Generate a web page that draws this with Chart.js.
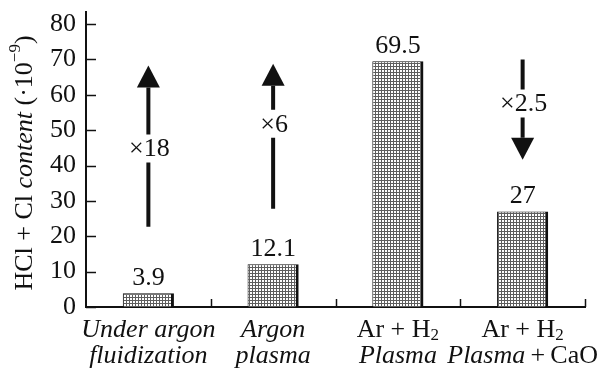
<!DOCTYPE html>
<html>
<head>
<meta charset="utf-8">
<script src="https://cdn.jsdelivr.net/npm/chart.js@4.4.0/dist/chart.umd.min.js"></script>
<style>
  body { margin: 0; background: #fff; }
  #wrap { width: 606px; height: 372px; }
</style>
</head>
<body>
<div id="wrap"><canvas id="chart" width="606" height="372"></canvas></div>
<script>
// Category labels (two lines each)
const labelsTop = ['Under argon', 'Argon', 'Ar + H', 'Ar + H'];
const labelsBottom = ['fluidization', 'plasma', 'Plasma', 'Plasma'];
// HCl + Cl content, 10^-9
const values = [3.9, 12.1, 69.5, 27];
const yTicks = [0, 10, 20, 30, 40, 50, 60, 70, 80];
const yMin = 0;
const yMax = 83.4;

// Ratio arrows: tail value, tip value, label and where the label sits
const arrowCategory = [0, 1, 3];
const arrowTail = [22.7, 27.8, 70];
const arrowTip = [68.3, 68.8, 41.6];
const arrowText = ['×18', '×6', '×2.5'];
const arrowTextAt = [44.8, 51.8, 57.5];

const SERIF = '"Liberation Serif", "Times New Roman", serif';
const F = 26;

// Dotted fill like the printed bars
function makePattern() {
  const c = document.createElement('canvas');
  c.width = 3; c.height = 3;
  const p = c.getContext('2d');
  p.fillStyle = '#fff';
  p.fillRect(0, 0, 3, 3);
  p.fillStyle = '#5e5e5e';
  p.fillRect(0, 0, 3, 1);
  p.fillRect(0, 0, 1, 3);
  return p.createPattern(c, 'repeat');
}

// draw pieces of text in different fonts, centred on x
function drawRuns(ctx, runs, x, y) {
  let total = 0;
  runs.forEach(r => { ctx.font = r.font; total += ctx.measureText(r.text).width; });
  let cx = x - total / 2;
  ctx.textAlign = 'left';
  runs.forEach(r => {
    ctx.font = r.font;
    ctx.fillText(r.text, cx, y + (r.dy || 0));
    cx += ctx.measureText(r.text).width;
  });
}

const up = F + 'px ' + SERIF;
const it = 'italic ' + F + 'px ' + SERIF;
const small = '17px ' + SERIF;

const decorPlugin = {
  id: 'decor',
  afterDraw(chart) {
    const ctx = chart.ctx;
    const xs = chart.scales.x, ys = chart.scales.y;
    const area = chart.chartArea;
    ctx.save();
    ctx.strokeStyle = '#111';
    ctx.fillStyle = '#111';

    // inward ticks on y
    ctx.lineWidth = 1.5;
    ys.ticks.forEach(t => {
      const y = Math.round(ys.getPixelForValue(t.value)) + 0.5;
      ctx.beginPath();
      ctx.moveTo(area.left, y);
      ctx.lineTo(area.left + 10, y);
      ctx.stroke();
    });
    // upward ticks on x at category borders
    for (let i = 1; i <= labelsTop.length; i++) {
      const x = Math.round(xs.getPixelForValue(i - 0.5)) + 0.5;
      ctx.beginPath();
      ctx.moveTo(x, area.bottom);
      ctx.lineTo(x, area.bottom - 8);
      ctx.stroke();
    }

    // value labels above bars
    ctx.textBaseline = 'alphabetic';
    ctx.textAlign = 'center';
    ctx.font = up;
    chart.getDatasetMeta(0).data.forEach((bar, i) => {
      ctx.fillText(String(values[i]), bar.x, bar.y - 8);
    });

    // arrows
    arrowCategory.forEach((c, i) => {
      const x = xs.getPixelForValue(c);
      const yTail = ys.getPixelForValue(arrowTail[i]);
      const yTip = ys.getPixelForValue(arrowTip[i]);
      const yText = ys.getPixelForValue(arrowTextAt[i]);
      const dir = yTip < yTail ? -1 : 1;
      const yBase = yTip - dir * 22;
      ctx.lineWidth = 4;
      ctx.beginPath();
      ctx.moveTo(x, yTail);
      ctx.lineTo(x, yText - dir * 14);
      ctx.moveTo(x, yText + dir * 14);
      ctx.lineTo(x, yBase);
      ctx.stroke();
      ctx.beginPath();
      ctx.moveTo(x, yTip);
      ctx.lineTo(x - 11.5, yBase);
      ctx.lineTo(x + 11.5, yBase);
      ctx.closePath();
      ctx.fill();
      ctx.font = up;
      ctx.textAlign = 'center';
      ctx.textBaseline = 'middle';
      ctx.fillText(arrowText[i], x + 1, yText + 1);
    });

    // category labels
    ctx.textBaseline = 'middle';
    labelsTop.forEach((t, i) => {
      const x = xs.getPixelForValue(i);
      if (i >= 2) {
        drawRuns(ctx, [{ text: t, font: up }, { text: '2', font: small, dy: 6 }], x, 330);
        const runs = [{ text: labelsBottom[i], font: it }];
        if (i === 3) runs.push({ text: '\u2009+\u2009CaO', font: up });
        drawRuns(ctx, runs, x, 356);
      } else {
        drawRuns(ctx, [{ text: t, font: it }], x, 330);
        drawRuns(ctx, [{ text: labelsBottom[i], font: it }], x, 356);
      }
    });

    // y title
    ctx.translate(25, 163);
    ctx.rotate(-Math.PI / 2);
    drawRuns(ctx, [
      { text: 'HCl + Cl ', font: up },
      { text: 'content', font: it },
      { text: ' (·10', font: up },
      { text: '−9', font: small, dy: -9 },
      { text: ')', font: up }
    ], 0, 0);
    ctx.restore();
  }
};

new Chart(document.getElementById('chart'), {
  type: 'bar',
  data: {
    labels: labelsTop,
    datasets: [{
      data: values,
      backgroundColor: makePattern(),
      borderColor: '#111',
      borderWidth: { left: 1, top: 1, right: 3, bottom: 0 },
      borderSkipped: false,
      categoryPercentage: 1,
      barPercentage: 0.41
    }]
  },
  options: {
    responsive: false,
    animation: false,
    layout: { padding: { left: 0, right: 21, top: 12, bottom: 65 } },
    plugins: { legend: { display: false }, tooltip: { enabled: false } },
    scales: {
      x: {
        offset: true,
        grid: { display: false, drawTicks: false },
        border: { display: true, color: '#111', width: 2 },
        ticks: { display: false },
        afterFit(s) { s.height = 0; s.paddingLeft = 0; s.paddingRight = 0; }
      },
      y: {
        min: yMin,
        max: yMax,
        grid: { display: false, drawTicks: false },
        border: { display: true, color: '#111', width: 2 },
        ticks: {
          padding: 10,
          color: '#111',
          font: { family: SERIF, size: F }
        },
        afterBuildTicks(s) { s.ticks = yTicks.map(v => ({ value: v })); },
        afterFit(s) { s.width = 86; s.paddingTop = 0; s.paddingBottom = 0; }
      }
    }
  },
  plugins: [decorPlugin]
});
</script>
</body>
</html>
